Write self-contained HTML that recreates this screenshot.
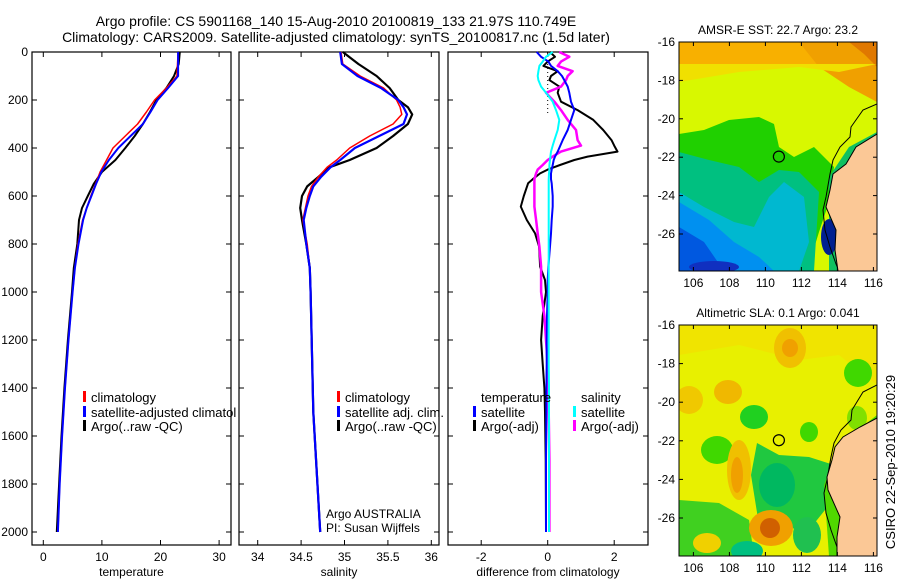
<!DOCTYPE html>
<html><head><meta charset="utf-8"><style>
html,body{margin:0;padding:0;background:#fff;}
svg{display:block;font-family:"Liberation Sans",sans-serif;}
</style></head><body>
<svg id="fig" width="900" height="580" viewBox="0 0 900 580" xmlns="http://www.w3.org/2000/svg">
<defs><clipPath id="p1clip"><rect x="0" y="0" width="236" height="580"/></clipPath></defs>
<text x="336" y="26" font-size="14" text-anchor="middle">Argo profile: CS 5901168_140 15-Aug-2010 20100819_133 21.97S 110.749E</text>
<text x="336" y="42" font-size="14" text-anchor="middle">Climatology: CARS2009. Satellite-adjusted climatology: synTS_20100817.nc (1.5d later)</text>
<g id="panels"></g>
<g id="maps"></g>
<text transform="translate(895,462) rotate(-90)" font-size="13" text-anchor="middle">CSIRO 22-Sep-2010 19:20:29</text>
</svg>
<script>
// ---------- data ----------
const depthTicks=[0,200,400,600,800,1000,1200,1400,1600,1800,2000];
const tempTicks=[0,10,20,30];
const salTicks=[34,34.5,35,35.5,36];
const diffTicks=[-2,0,2];

const tDepth=[0,50,100,150,200,250,300,350,400,450,500,550,600,650,700,800,900,1000,1200,1400,1600,1800,2000];
const tClim=[23.0,22.9,22.8,21.0,19.0,17.6,16.1,14.0,11.9,10.8,9.7,8.9,8.1,7.4,6.7,5.9,5.4,5.0,4.3,3.7,3.2,2.8,2.5];
const tSat =[23.0,23.0,23.0,21.3,19.5,18.3,17.0,14.9,12.8,11.2,9.9,9.0,8.2,7.4,6.8,6.0,5.4,5.0,4.3,3.7,3.2,2.8,2.5];
const tArgo=[23.3,23.1,22.3,21.0,19.3,18.2,17.0,15.6,14.0,12.3,10.0,8.6,7.6,6.6,6.1,5.8,5.2,4.9,4.2,3.6,3.1,2.7,2.3];

const sDepth=[0,50,100,150,200,230,260,300,350,400,450,480,520,560,600,650,700,800,900,1000,1500,2000];
const sClim=[34.96,34.98,35.18,35.45,35.6,35.64,35.66,35.56,35.29,35.06,34.91,34.8,34.7,34.62,34.58,34.55,34.52,34.57,34.6,34.61,34.64,34.72];
const sSat =[34.95,34.97,35.15,35.42,35.62,35.68,35.72,35.68,35.4,35.12,34.95,34.84,34.73,34.64,34.6,34.56,34.53,34.56,34.6,34.61,34.64,34.72];
const sArgo=[34.98,35.16,35.37,35.52,35.62,35.73,35.78,35.73,35.56,35.37,35.06,34.83,34.7,34.57,34.51,34.49,34.51,34.56,34.6,34.61,34.64,34.72];

const dDepth=[0,20,40,58,80,100,117,144,170,207,242,283,325,367,390,415,436,450,471,490,506,530,547,600,644,700,756,811,894,950,1000,1100,1200,1300,1400,1500,1700,2000];
const dTSat =[-0.33,-0.2,0.02,0.1,0.3,0.43,0.5,0.6,0.65,0.7,0.8,0.7,0.6,0.45,0.38,0.3,0.22,0.18,0.15,0.12,0.1,0.1,0.12,0.15,0.15,0.12,0.1,0.07,0.02,0.0,0.0,-0.02,-0.03,-0.03,-0.04,-0.04,-0.05,-0.05];
const dTArgo=[0.07,0.22,0.0,-0.13,0.3,0.1,0.05,0.35,0.3,0.4,0.9,1.37,1.67,1.92,2.0,2.1,1.2,0.8,0.37,0.0,-0.23,-0.45,-0.59,-0.72,-0.81,-0.63,-0.38,-0.26,-0.23,-0.08,-0.05,-0.15,-0.2,-0.15,-0.1,-0.08,-0.06,-0.05];
const dSSat =[0.15,-0.05,-0.15,-0.25,-0.28,-0.3,-0.28,-0.2,-0.05,0.15,0.25,0.35,0.3,0.2,0.15,0.1,0.08,0.07,0.05,0.05,0.04,0.03,0.03,0.03,0.03,0.03,0.03,0.03,0.03,0.03,0.03,0.03,0.03,0.03,0.04,0.04,0.04,0.04];
const dSArgo=[0.35,0.65,0.4,0.3,0.75,0.6,0.55,0.4,-0.05,0.2,0.4,0.6,0.85,0.9,1.0,0.4,0.15,0.0,-0.15,-0.3,-0.35,-0.4,-0.4,-0.4,-0.4,-0.35,-0.3,-0.25,-0.2,-0.2,-0.2,-0.1,-0.05,0.0,0.02,0.03,0.05,0.05];

const latTicks=[-16,-18,-20,-22,-24,-26];
const lonTicks=[106,108,110,112,114,116];
const argoLon=110.749, argoLat=-21.97;

// ---------- helpers ----------
const NS="http://www.w3.org/2000/svg";
function mk(tag,attrs,parent){const e=document.createElementNS(NS,tag);for(const k in attrs)e.setAttribute(k,attrs[k]);parent.appendChild(e);return e;}
const panelsG=document.getElementById('panels');
const mapsG=document.getElementById('maps');
const yD=d=>52+d*0.24;
const Y0=52,Y1=545;
const panels=[
 {name:'temperature',x0:32,x1:231,sx:v=>43.3+v*5.86,ticks:tempTicks,label:'temperature'},
 {name:'salinity',x0:239,x1:439,sx:v=>257.7+(v-34)*86.8,ticks:salTicks,label:'salinity'},
 {name:'difference',x0:448,x1:648,sx:v=>547.7+v*33.25,ticks:diffTicks,label:'difference from climatology'}
];
function line(p,depths,vals,color,w,name,dash){
  let d='';depths.forEach((dp,i)=>{d+=(i?'L':'M')+p.sx(vals[i]).toFixed(1)+','+yD(dp).toFixed(1);});
  const e=mk('path',{d:d,fill:'none',stroke:color,'stroke-width':w,'stroke-linejoin':'round'},panelsG);
  if(dash)e.setAttribute('stroke-dasharray',dash);
  
  
}
panels.forEach((p,pi)=>{
  const r=mk('rect',{x:p.x0,y:Y0,width:p.x1-p.x0,height:Y1-Y0,fill:'none',stroke:'#000','stroke-width':1.2},panelsG);
  
  
  p.ticks.forEach(t=>{
    const x=p.sx(t);
    mk('line',{x1:x,x2:x,y1:Y0,y2:Y0+5,stroke:'#000'},panelsG);
    mk('line',{x1:x,x2:x,y1:Y1,y2:Y1-5,stroke:'#000'},panelsG);
    const tx=mk('text',{x:x,y:561,'font-size':12,'text-anchor':'middle'},panelsG);tx.textContent=t;
    
    
  });
  depthTicks.forEach(d=>{
    const y=yD(d);
    mk('line',{x1:p.x0,x2:p.x0+5,y1:y,y2:y,stroke:'#000'},panelsG);
    mk('line',{x1:p.x1,x2:p.x1-5,y1:y,y2:y,stroke:'#000'},panelsG);
    if(pi===0){const tx=mk('text',{x:28,y:y+4,'font-size':12,'text-anchor':'end'},panelsG);tx.textContent=d;
      
      }
  });
  const xl=mk('text',{x:(p.x0+p.x1)/2,y:576,'font-size':12,'text-anchor':'middle'},panelsG);xl.textContent=p.label;
  
  
});
const [P1,P2,P3]=panels;
line(P1,tDepth,tArgo,'#000',2,'temperature-argo-line');
line(P1,tDepth,tClim,'#f00',1.5,'temperature-climatology-line');
line(P1,tDepth,tSat,'#00f',2,'temperature-satellite-line');
line(P2,sDepth,sArgo,'#000',2.2,'salinity-argo-line');
line(P2,sDepth,sClim,'#f00',1.5,'salinity-climatology-line');
line(P2,sDepth,sSat,'#00f',2.2,'salinity-satellite-line');
const zl=mk('line',{x1:P3.sx(0),x2:P3.sx(0),y1:Y0,y2:yD(260),stroke:'#000','stroke-dasharray':'1,3'},panelsG);


line(P3,dDepth,dTArgo,'#000',2,'diff-temperature-argo-line');
line(P3,dDepth,dSArgo,'#f0f',2.5,'diff-salinity-argo-line');
line(P3,dDepth,dTSat,'#00f',2,'diff-temperature-satellite-line');
line(P3,dDepth,dSSat,'#0ff',2,'diff-salinity-satellite-line');

function legend(x,y,color,label,name,clip){
  const g=mk('g',{},panelsG);
  
  
  if(clip)g.setAttribute('clip-path','url(#p1clip)');
  if(color)mk('rect',{x:x,y:y-6,width:3,height:11,fill:color},g);
  const t=mk('text',{x:x+8,y:y+5,'font-size':13},g);t.textContent=label;
}
legend(83,397,'#f00','climatology','legend-temp-climatology');
legend(83,412,'#00f','satellite-adjusted climatology','legend-temp-satellite',true);
legend(83,426,'#000','Argo(..raw -QC)','legend-temp-argo');
legend(337,397,'#f00','climatology','legend-sal-climatology');
legend(337,412,'#00f','satellite adj. clim.','legend-sal-satellite');
legend(337,426,'#000','Argo(..raw -QC)','legend-sal-argo');
legend(473,397,null,'temperature','legend-diff-temperature-header');
legend(473,412,'#00f','satellite','legend-diff-temp-satellite');
legend(473,426,'#000','Argo(-adj)','legend-diff-temp-argo');
legend(573,397,null,'salinity','legend-diff-salinity-header');
legend(573,412,'#0ff','satellite','legend-diff-sal-satellite');
legend(573,426,'#f0f','Argo(-adj)','legend-diff-sal-argo');
const a1=mk('text',{x:326,y:518,'font-size':12},panelsG);a1.textContent='Argo AUSTRALIA';

const a2=mk('text',{x:326,y:532,'font-size':12},panelsG);a2.textContent='PI: Susan Wijffels';


// ---------- maps ----------
function map(ox,oy,w,h,latTop,pxPerLat,title,name,shapes,land,coast){
  const g=mk('g',{},mapsG);
  
  
  const cid=name+'-clip';
  const cp=mk('clipPath',{id:cid},g);mk('rect',{x:0,y:0,width:w,height:h},cp);
  const outer=mk('g',{transform:'translate('+ox+','+oy+')'},g);
  const inner=mk('g',{'clip-path':'url(#'+cid+')'},outer);
  shapes.forEach(s=>{
    if(s.t==='r')mk('rect',{x:s.x,y:s.y,width:s.w,height:s.h,fill:s.c},inner);
    else if(s.t==='p')mk('polygon',{points:s.p,fill:s.c},inner);
    else mk('ellipse',{cx:s.x,cy:s.y,rx:s.rx,ry:s.ry,fill:s.c},inner);
  });
  mk('polyline',{points:coast,fill:'none',stroke:'#000','stroke-width':1},inner);
  mk('polygon',{points:land,fill:'#fbc896',stroke:'#000','stroke-width':1},inner);
  const lonX=l=>ox+(l-105.2)*18;
  const latY=l=>oy+(latTop-l)*pxPerLat;
  const c=mk('circle',{cx:lonX(argoLon),cy:latY(argoLat),r:5.5,fill:'none',stroke:'#000','stroke-width':1.2},g);
  
  
  mk('rect',{x:ox,y:oy,width:w,height:h,fill:'none',stroke:'#000','stroke-width':1},g);
  latTicks.forEach(l=>{const y=latY(l);
    mk('line',{x1:ox,x2:ox+4,y1:y,y2:y,stroke:'#000'},g);
    mk('line',{x1:ox+w,x2:ox+w-4,y1:y,y2:y,stroke:'#000'},g);
    const t=mk('text',{x:ox-4,y:y+4,'font-size':12,'text-anchor':'end'},g);t.textContent=l;
    });
  lonTicks.forEach(l=>{const x=lonX(l);
    mk('line',{x1:x,x2:x,y1:oy+h,y2:oy+h-4,stroke:'#000'},g);
    mk('line',{x1:x,x2:x,y1:oy,y2:oy+4,stroke:'#000'},g);
    const t=mk('text',{x:x,y:oy+h+16,'font-size':12,'text-anchor':'middle'},g);t.textContent=l;
    });
  const tt=mk('text',{x:ox+w/2,y:oy-8,'font-size':12,'text-anchor':'middle'},g);tt.textContent=title;
  
}
map(679,42,198,229,-16,19.2,'AMSR-E SST: 22.7 Argo: 23.2','sst-map',[
 {t:'r',x:0,y:0,w:198,h:229,c:'#d8f800'},
 {t:'r',x:0,y:0,w:198,h:22,c:'#f8b000'},
 {t:'p',p:'120,0 198,0 198,60 170,45 140,25',c:'#f0a000'},
 {t:'p',p:'170,0 198,0 198,25 185,12',c:'#e07800'},
 {t:'p',p:'0,22 198,22 160,30 120,25 60,30 0,40',c:'#f0e000'},
 {t:'p',p:'0,92 25,88 50,78 80,75 95,82 100,105 115,115 135,105 155,125 150,160 140,190 128,229 0,229',c:'#20d000'},
 {t:'p',p:'0,110 30,118 60,125 80,140 100,128 120,130 140,150 135,229 0,229',c:'#00c080'},
 {t:'p',p:'0,150 25,165 55,180 75,185 90,155 105,140 125,155 130,200 120,229 0,229',c:'#00b8d0'},
 {t:'p',p:'0,160 30,178 55,200 80,215 95,229 0,229',c:'#0090f0'},
 {t:'p',p:'0,185 25,200 45,229 0,229',c:'#0058e0'},
 {t:'e',x:35,y:225,rx:25,ry:6,c:'#1030c0'},
 {t:'p',p:'150,135 170,105 198,90 198,229 150,229',c:'#10c060'},
 {t:'e',x:150,y:195,rx:8,ry:18,c:'#002090'}
],'198,92 177,105 167,122 154,132 151,148 147,165 157,188 156,208 159,229 198,229',
 '198,62 184,68 172,85 171,95 161,105 154,118 151,132 147,155 144,168 146,188 151,205 157,222 160,229');
map(679,325,198,231,-16,19.3,'Altimetric SLA: 0.1 Argo: 0.041','sla-map',[
 {t:'r',x:0,y:0,w:198,h:231,c:'#e8f000'},
 {t:'p',p:'0,0 198,0 198,60 160,30 120,35 60,20 0,30',c:'#f0e400'},
 {t:'e',x:111,y:23,rx:16,ry:20,c:'#f0c000'},
 {t:'e',x:111,y:23,rx:8,ry:9,c:'#f0a000'},
 {t:'e',x:49,y:67,rx:14,ry:12,c:'#f0b800'},
 {t:'e',x:10,y:75,rx:14,ry:14,c:'#f0c800'},
 {t:'e',x:75,y:92,rx:14,ry:12,c:'#20d020'},
 {t:'e',x:179,y:48,rx:14,ry:14,c:'#40d800'},
 {t:'e',x:178,y:93,rx:10,ry:12,c:'#80e000'},
 {t:'e',x:130,y:107,rx:9,ry:10,c:'#40d800'},
 {t:'e',x:38,y:125,rx:16,ry:14,c:'#40d800'},
 {t:'p',p:'78,118 100,130 130,132 155,140 150,180 130,205 80,200 72,150',c:'#20c840'},
 {t:'e',x:98,y:160,rx:18,ry:22,c:'#00b860'},
 {t:'e',x:60,y:145,rx:12,ry:30,c:'#f0c000'},
 {t:'e',x:58,y:150,rx:6,ry:18,c:'#f0a000'},
 {t:'p',p:'0,175 40,178 70,195 75,231 0,231',c:'#40d020'},
 {t:'e',x:28,y:218,rx:14,ry:10,c:'#f0d000'},
 {t:'e',x:68,y:226,rx:16,ry:10,c:'#00c080'},
 {t:'e',x:92,y:203,rx:22,ry:18,c:'#f0a000'},
 {t:'e',x:91,y:203,rx:10,ry:10,c:'#d06000'},
 {t:'e',x:128,y:210,rx:14,ry:18,c:'#20c050'},
 {t:'p',p:'145,160 160,120 198,90 198,231 150,231',c:'#50d800'}
],'198,93 181,102 164,112 156,122 153,135 148,152 149,165 161,192 158,212 158,231 198,231',
 '198,60 184,67 173,85 172,95 162,105 155,118 152,132 148,155 145,168 147,188 152,205 158,222 160,231');
</script>
</body></html>
